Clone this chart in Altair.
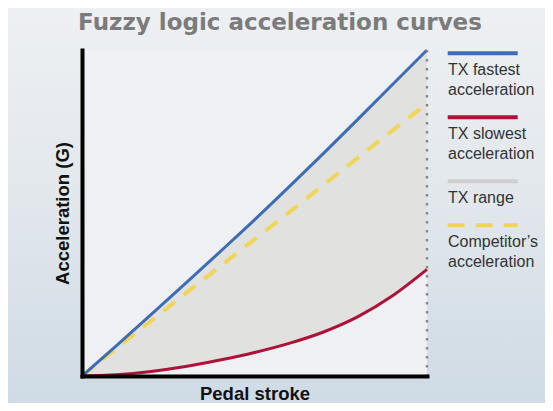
import altair as alt
import pandas as pd

# ---- data ----
pedal = [0.0, 0.1, 0.2, 0.3, 0.4, 0.5, 0.6, 0.7, 0.8, 0.9, 1.0]
fastest = [0.0, 9.3, 18.8, 28.4, 38.1, 47.9, 58.0, 68.3, 78.8, 89.4, 100.0]
slowest = [0.0, 0.4, 1.4, 2.9, 4.9, 7.2, 10.0, 13.5, 18.2, 24.6, 32.7]
competitor = [0.0, 8.5, 16.9, 25.3, 33.6, 41.9, 50.2, 58.6, 67.0, 75.3, 83.6]

chart_title = ["Fuzzy logic acceleration curves"]
legend_names = ["TX fastest acceleration", "TX slowest acceleration", "TX range", "Competitor\u2019s acceleration"]
legend_lines = [["TX fastest", "acceleration"], ["TX slowest", "acceleration"], ["TX range"], ["Competitor\u2019s", "acceleration"]]

BLUE = "#3e6cb5"
RED = "#ad1239"
GRAY = "#cfcfcf"
YELLOW = "#f1d55b"
legend_colors = [BLUE, RED, GRAY, YELLOW]

W, H = 345, 326
PL, PT, PR, PB = 74, 42, 118, 27

df = pd.DataFrame({"pedal": pedal, "fastest": fastest, "slowest": slowest, "competitor": competitor})

xs = alt.Scale(domain=[0, 1], nice=False, zero=False)
ys = alt.Scale(domain=[0, 100], nice=False, zero=False)

axis_common = dict(
    domainColor="black", domainWidth=4, domainCap="square", ticks=False, labels=False, grid=False,
    titleFont="Liberation Sans", titleFontWeight="bold", titleFontSize=18.5, titleColor="#111111",
    titleBaseline="alphabetic", zindex=2,
)

one = pd.DataFrame({"k": [0]})

# page background gradient and plot panel
bg = alt.Chart(one).mark_rect(
    color=alt.LinearGradient(
        gradient="linear",
        stops=[alt.GradientStop(color="#eef0f3", offset=0),
               alt.GradientStop(color="#e1e7ec", offset=0.5),
               alt.GradientStop(color="#cfdbe5", offset=1)],
        x1=0, x2=0, y1=0, y2=1,
    )
).encode(x=alt.value(-PL), x2=alt.value(W + PR), y=alt.value(-PT), y2=alt.value(H + PB))

panel = alt.Chart(one).mark_rect(color="#eff0f4").encode(
    x=alt.value(0), x2=alt.value(W), y=alt.value(0), y2=alt.value(H)
)

base = alt.Chart(df)

area = base.mark_area(color="#e1e2e0", interpolate="monotone").encode(
    x=alt.X("pedal:Q", scale=xs, title="Pedal stroke", axis=alt.Axis(titlePadding=23, **axis_common)),
    y=alt.Y("fastest:Q", scale=ys, title="Acceleration (G)", axis=alt.Axis(titlePadding=14, **axis_common)),
    y2="slowest:Q",
)

comp = base.mark_line(color=YELLOW, strokeWidth=4, strokeDash=[15, 11], interpolate="monotone").encode(
    x=alt.X("pedal:Q", scale=xs), y=alt.Y("competitor:Q", scale=ys)
)
fast = base.mark_line(color=BLUE, strokeWidth=3, interpolate="monotone").encode(
    x=alt.X("pedal:Q", scale=xs), y=alt.Y("fastest:Q", scale=ys)
)
slow = base.mark_line(color=RED, strokeWidth=3, interpolate="monotone").encode(
    x=alt.X("pedal:Q", scale=xs), y=alt.Y("slowest:Q", scale=ys)
)

edge = alt.Chart(pd.DataFrame({"pedal": [1.0]})).mark_rule(
    color="#8a8a8a", strokeWidth=2.5, strokeDash=[2.5, 6.5]
).encode(x=alt.X("pedal:Q", scale=xs), y=alt.value(0), y2=alt.value(H))

# ---- title as text ----
title = alt.Chart(pd.DataFrame({"t": chart_title})).mark_text(
    align="center", baseline="alphabetic", font="DejaVu Sans", fontSize=23, fontWeight="bold",
    color="#7b7b7b",
).encode(x=alt.value(198), y=alt.value(-20), text="t:N")

# ---- custom legend (line above wrapped text) ----
line_rows, text_rows = [], []
y = 3.3
for name, lines, col in zip(legend_names, legend_lines, legend_colors):
    line_rows.append({"name": name, "x1": 365.7, "x2": 435.7, "y": y, "color": col,
                      "dashed": col == YELLOW})
    ty = y + 21.7
    for ln in lines:
        text_rows.append({"label": ln, "x": 366, "y": ty})
        ty += 20
    y = ty - 20 + 22.3

ldf = pd.DataFrame(line_rows)
tdf = pd.DataFrame(text_rows)

leg_solid = alt.Chart(ldf[~ldf["dashed"]]).mark_rule(strokeWidth=4).encode(
    x=alt.X("x1:Q", scale=None), x2="x2:Q", y=alt.Y("y:Q", scale=None),
    color=alt.Color("color:N", scale=None),
)
leg_dash = alt.Chart(ldf[ldf["dashed"]]).mark_rule(strokeWidth=4, strokeDash=[17, 11]).encode(
    x=alt.X("x1:Q", scale=None), x2="x2:Q", y=alt.Y("y:Q", scale=None),
    color=alt.Color("color:N", scale=None),
)
leg_text = alt.Chart(tdf).mark_text(
    align="left", baseline="alphabetic", font="Liberation Sans", fontSize=16, color="#333333"
).encode(x=alt.X("x:Q", scale=None), y=alt.Y("y:Q", scale=None), text="label:N")

chart = alt.layer(bg, panel, area, comp, fast, slow, edge, title, leg_solid, leg_dash, leg_text).properties(
    width=W, height=H,
    autosize=alt.AutoSizeParams(type="none"),
    padding={"left": PL, "top": PT, "right": PR, "bottom": PB},
).configure(background="#e2e7ed").configure_view(stroke=None)

chart.save("out.html", embed_options={"renderer": "svg", "actions": False})
